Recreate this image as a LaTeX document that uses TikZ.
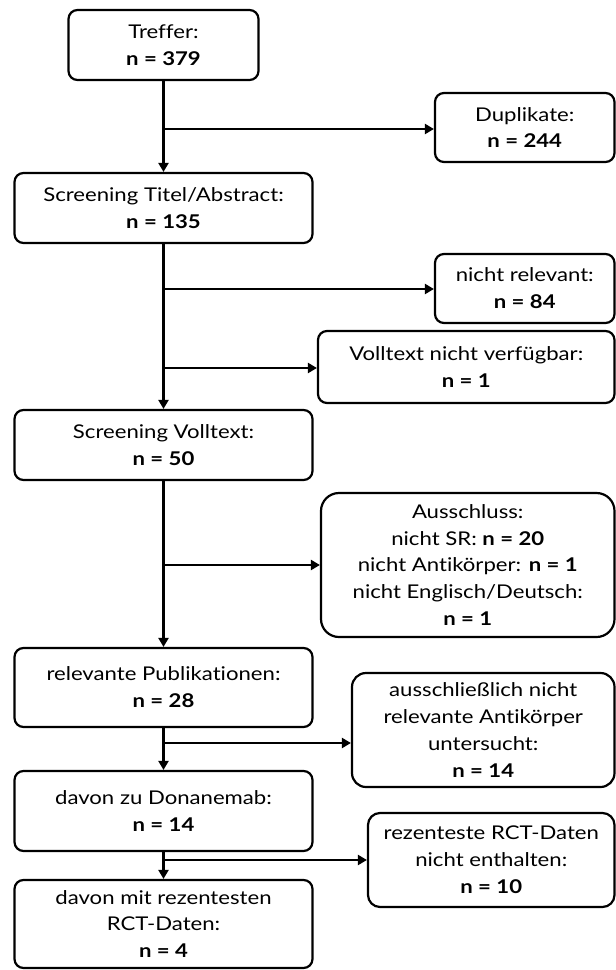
\documentclass[tikz,border=0pt]{standalone}
\usepackage{fontspec}
\setmainfont{Lato}[FakeStretch=1.17,Ligatures={CommonOff,RareOff,ContextualOff}]
\usetikzlibrary{arrows.meta}
\begin{document}
\begin{tikzpicture}[x=1bp,y=-1bp,
  box/.style={draw, line width=2.2bp, rounded corners=9bp, align=center, inner sep=0pt,
    font=\fontsize{19}{27}\selectfont},
  conn/.style={line width=2.2bp},
  arr/.style={conn, -{Triangle[length=9bp,width=10bp]}}]
\useasboundingbox (0,0) rectangle (616,970);
% main column
\node[box, minimum width=190bp, minimum height=70bp] (treffer) at (163.5,45) {Treffer:\\\textbf{n = 379}};
\node[box, minimum width=298bp, minimum height=70bp] (sta) at (163.5,208) {Screening Titel/Abstract:\\\textbf{n = 135}};
\node[box, minimum width=298bp, minimum height=70bp] (svt) at (163.5,445) {Screening Volltext:\\\textbf{n = 50}};
\node[box, minimum width=298bp, minimum height=79bp] (rp) at (163.5,687.5) {relevante Publikationen:\\\textbf{n = 28}};
\node[box, minimum width=298bp, minimum height=80bp] (don) at (163.5,811) {davon zu Donanemab:\\\textbf{n = 14}};
\node[box, minimum width=298bp, minimum height=88bp] (dm) at (163.5,924) {davon mit rezentesten\\RCT-Daten:\\\textbf{n = 4}};
% side boxes
\node[box, minimum width=179.5bp, minimum height=69bp] (dup) at (524.75,127.5) {Duplikate:\\\textbf{n = 244}};
\node[box, minimum width=179.5bp, minimum height=69bp] (nrel) at (524.75,288.5) {nicht relevant:\\\textbf{n = 84}};
\node[box, minimum width=296.5bp, minimum height=72bp] (vnv) at (466.25,367) {Volltext nicht verfügbar:\\\textbf{n = 1}};
\node[box, rounded corners=18bp, minimum width=293.5bp, minimum height=144bp] (aus) at (467.75,565) {Ausschluss:\\nicht SR: \textbf{n = 20}\\nicht Antikörper: \textbf{n = 1}\\nicht Englisch/Deutsch:\\\textbf{n = 1}};
\node[box, rounded corners=14bp, minimum width=262.5bp, minimum height=114bp] (anr) at (483.25,730) {ausschließlich nicht\\relevante Antikörper\\untersucht:\\\textbf{n = 14}};
\node[box, rounded corners=12bp, minimum width=246.5bp, minimum height=94bp] (rez) at (491.25,860) {rezenteste RCT-Daten\\nicht enthalten:\\\textbf{n = 10}};
% branch points
\coordinate (b1) at (163.5,129);
\coordinate (b2) at (163.5,289);
\coordinate (b3) at (163.5,368);
\coordinate (b4) at (163.5,565);
\coordinate (b5) at (163.5,743);
\coordinate (b6) at (163.5,860);
% vertical connectors
\draw[arr] (treffer.south) -- (sta.north);
\draw[arr] (sta.south) -- (svt.north);
\draw[arr] (svt.south) -- (rp.north);
\draw[arr] (rp.south) -- (don.north);
\draw[arr] (don.south) -- (dm.north);
% side connectors
\draw[arr] (b1) -- (b1 -| dup.west);
\draw[arr] (b2) -- (b2 -| nrel.west);
\draw[arr] (b3) -- (b3 -| vnv.west);
\draw[arr] (b4) -- (b4 -| aus.west);
\draw[arr] (b5) -- (b5 -| anr.west);
\draw[arr] (b6) -- (b6 -| rez.west);
\end{tikzpicture}
\end{document}
